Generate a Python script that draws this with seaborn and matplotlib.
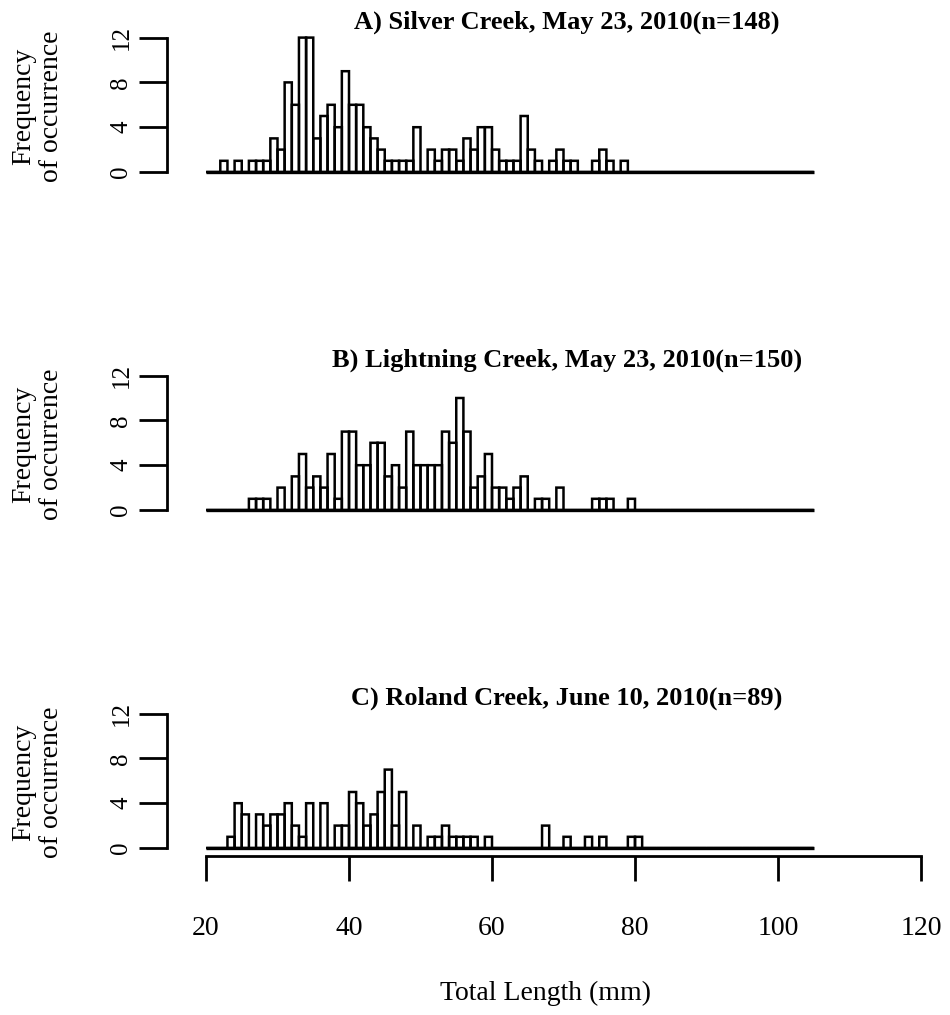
import numpy as np
import pandas as pd
import matplotlib
matplotlib.use("Agg")
import matplotlib.pyplot as plt
import seaborn as sns

# ---------------- data (1-mm length classes, counts) ----------------
silver_lengths = [22, 24, 26, 27, 28, 29, 30, 31, 32, 33, 34, 35, 36, 37, 38, 39, 40,
                  41, 42, 43, 44, 45, 46, 47, 48, 49, 51, 52, 53, 54, 55, 56, 57, 58,
                  59, 60, 61, 62, 63, 64, 65, 66, 68, 69, 70, 71, 74, 75, 76, 78]
silver_counts = [1, 1, 1, 1, 1, 3, 2, 8, 6, 12, 12, 3, 5, 6, 4, 9, 6,
                 6, 4, 3, 2, 1, 1, 1, 1, 4, 2, 1, 2, 2, 1, 3, 2, 4,
                 4, 2, 1, 1, 1, 5, 2, 1, 1, 2, 1, 1, 1, 2, 1, 1]

lightning_lengths = [26, 27, 28, 30, 32, 33, 34, 35, 36, 37, 38, 39, 40, 41, 42, 43,
                     44, 45, 46, 47, 48, 49, 50, 51, 52, 53, 54, 55, 56, 57, 58, 59,
                     60, 61, 62, 63, 64, 66, 67, 69, 74, 75, 76, 79]
lightning_counts = [1, 1, 1, 2, 3, 5, 2, 3, 2, 5, 1, 7, 7, 4, 4, 6,
                    6, 3, 4, 2, 7, 4, 4, 4, 4, 7, 6, 10, 7, 2, 3, 5,
                    2, 2, 1, 2, 3, 1, 1, 2, 1, 1, 1, 1]

roland_lengths = [23, 24, 25, 27, 28, 29, 30, 31, 32, 33, 34, 36, 38, 39, 40, 41, 42,
                  43, 44, 45, 46, 47, 49, 51, 52, 53, 54, 55, 56, 57, 59, 67, 70, 73,
                  75, 79, 80]
roland_counts = [1, 4, 3, 3, 2, 3, 3, 4, 2, 1, 4, 4, 2, 2, 5, 4, 2,
                 3, 5, 7, 2, 5, 2, 1, 1, 2, 1, 1, 1, 1, 1, 2, 1, 1,
                 1, 1, 1]

titles = ["A) Silver Creek, May 23, 2010(n=148)",
          "B) Lightning Creek, May 23, 2010(n=150)",
          "C) Roland Creek, June 10, 2010(n=89)"]
y_ticks = [0, 4, 8, 12]
x_ticks = [20, 40, 60, 80, 100, 120]
hist_range = (20, 105)

# ---------------- style ----------------
sns.set_theme(style="white")
plt.rcParams['font.family'] = ['Liberation Serif', 'DejaVu Serif']
plt.rcParams['axes.linewidth'] = 2.0
for k in ['text.color', 'axes.labelcolor', 'xtick.color', 'ytick.color',
          'axes.edgecolor']:
    plt.rcParams[k] = 'black'

W, H = 950, 1015
fig = plt.figure(figsize=(W / 100, H / 100), dpi=100)

def fx(px):
    return px / W

def fy(py):
    return 1 - py / H

x_left, x_right = 206, 921
zeros = [172, 510, 848]
unit = 11.2
datasets = [(silver_lengths, silver_counts),
            (lightning_lengths, lightning_counts),
            (roland_lengths, roland_counts)]

for i, ((lens, cnts), title, y0) in enumerate(zip(datasets, titles, zeros)):
    y12 = y0 - 12 * unit
    ax = fig.add_axes([fx(x_left), fy(y0), fx(x_right) - fx(x_left), (y0 - y12) / H])
    df = pd.DataFrame({"length": np.array(lens, dtype=float) + 0.5,
                       "count": np.array(cnts, dtype=float)})
    sns.histplot(data=df, x="length", weights="count", binwidth=1,
                 binrange=hist_range, fill=False, color="black",
                 linewidth=1.8, ax=ax)
    for p in ax.patches:
        p.set_clip_on(False)
        p.set_edgecolor("black")
        p.set_snap(False)
    # zero-count classes drawn as a continuous base line (as R's hist does)
    ax.hlines(0, *hist_range, color="black", linewidth=2.4, clip_on=False)
    ax.set_xlim(20, 120)
    ax.set_ylim(0, 12)
    ax.set_xlabel("")
    ax.set_ylabel("")
    for s in ["top", "right"]:
        ax.spines[s].set_visible(False)
    ax.spines["left"].set_position(("outward", 28))
    ax.spines["left"].set_bounds(0, 12)
    ax.spines["left"].set_linewidth(2.0)
    ax.set_yticks(y_ticks)
    ax.set_yticklabels([str(t) for t in y_ticks], rotation=90, va="center",
                       fontsize=18)
    ax.tick_params(axis="y", length=20, width=2.0, pad=5, left=True,
                   colors="black")
    if i < 2:
        ax.spines["bottom"].set_visible(False)
        ax.set_xticks([])
    else:
        ax.spines["bottom"].set_position(("outward", 6))
        ax.spines["bottom"].set_bounds(20, 120)
        ax.spines["bottom"].set_linewidth(2.0)
        ax.set_xticks(x_ticks)
        ax.set_xticklabels([str(t) for t in x_ticks], fontsize=20)
        ax.tick_params(axis="x", length=18, width=2.0, pad=25, bottom=True,
                       colors="black")
    ax.patch.set_visible(False)

    # panel title
    fig.text(fx(567), fy(y0 - 143), title, ha="center", va="baseline",
             fontsize=19, fontweight="bold")
    # y-axis label (two lines)
    fig.text(fx(38), fy(y0 - 66), "Frequency\nof occurrence", rotation=90,
             ha="center", va="center", multialignment="center", fontsize=20,
             linespacing=1.15)

fig.text(fx(545), fy(993), "Total Length (mm)", ha="center", va="center",
         fontsize=20)

fig.savefig("out.png", dpi=100, facecolor="white")
